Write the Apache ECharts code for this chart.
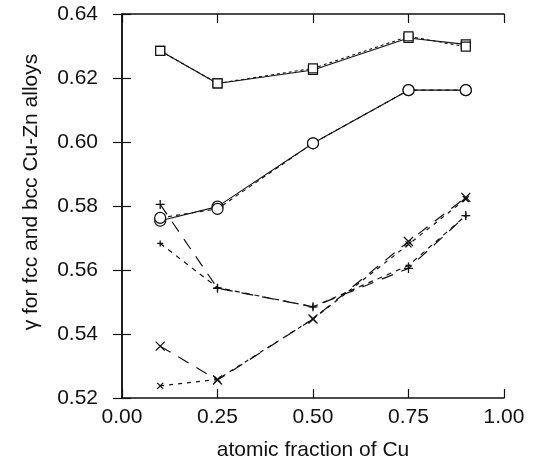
<!DOCTYPE html>
<html>
<head>
<meta charset="utf-8">
<script src="https://cdn.jsdelivr.net/npm/echarts@6/dist/echarts.min.js"></script>
<style>
  html, body { margin: 0; padding: 0; background: #fff; }
  #chart { width: 535px; height: 468px; }
</style>
</head>
<body>
<div id="chart"></div>
<script>
// Atomic fraction of Cu at which gamma was evaluated
const cuFraction = [0.1, 0.25, 0.5, 0.75, 0.9];

// fcc results (squares and circles), two variants each
const fccSquareA = [0.6285, 0.6183, 0.6225, 0.6325, 0.6305];
const fccSquareB = [0.6285, 0.6183, 0.6230, 0.6330, 0.6298];
const fccCircleA = [0.5754, 0.5798, 0.5996, 0.6162, 0.6162];
const fccCircleB = [0.5763, 0.5791, 0.5996, 0.6162, 0.6162];

// bcc results (plus and cross markers), two variants each
const bccPlusLong  = [0.5805, 0.5543, 0.5485, 0.5605, 0.5770];
const bccPlusShort = [0.5683, 0.5545, 0.5485, 0.5614, 0.5770];
const bccCrossLong  = [0.5362, 0.5256, 0.5447, 0.5689, 0.5827];
const bccCrossShort = [0.5238, 0.5258, 0.5447, 0.5680, 0.5822];

// Axis ticks
const xTicks = { min: 0, max: 1, step: 0.25 };
const yTicks = { min: 0.52, max: 0.64, step: 0.02 };

const FONT = 'Liberation Sans, Arial, Helvetica, sans-serif';
const INK = '#111';

const PLUS = 'path://M0,5L10,5M5,0L5,10';
const CROSS = 'path://M0,0L10,10M10,0L0,10';

function pairs(ys) {
  return cuFraction.map((x, i) => [x, ys[i]]);
}

function makeSeries(name, ys, symbol, size, dash, width) {
  return {
    name: name,
    type: 'line',
    data: pairs(ys),
    symbol: symbol,
    symbolSize: size,
    showAllSymbol: true,
    animation: false,
    lineStyle: { color: INK, width: width || 1.1, type: dash },
    itemStyle: { color: '#fff', borderColor: INK, borderWidth: 1.2 },
    emphasis: { disabled: true },
    z: 3
  };
}

function strokeOnly(s) {
  s.itemStyle = { color: 'none', borderColor: INK, borderWidth: 1.3 };
  return s;
}

const axisCommon = {
  axisLine: { show: true, lineStyle: { color: INK, width: 1.5 } },
  axisTick: { show: true, inside: true, length: 9, lineStyle: { color: INK, width: 1.2 } },
  splitLine: { show: false }
};

const chart = echarts.init(document.getElementById('chart'), null, { renderer: 'canvas' });

chart.setOption({
  backgroundColor: '#fff',
  animation: false,
  grid: { left: 122, right: 31, top: 14, bottom: 70, containLabel: false },
  xAxis: [
    Object.assign({
      type: 'value',
      position: 'bottom',
      min: xTicks.min, max: xTicks.max, interval: xTicks.step,
      name: 'atomic fraction of Cu',
      nameLocation: 'middle',
      nameGap: 42,
      nameTextStyle: { fontFamily: FONT, fontSize: 21, color: INK },
      axisLabel: {
        fontFamily: FONT, fontSize: 21, color: INK, margin: 9,
        formatter: v => v.toFixed(2)
      }
    }, axisCommon),
    Object.assign({
      type: 'value',
      position: 'top',
      min: xTicks.min, max: xTicks.max, interval: xTicks.step,
      axisLabel: { show: false }
    }, axisCommon)
  ],
  yAxis: [
    Object.assign({
      type: 'value',
      position: 'left',
      min: yTicks.min, max: yTicks.max, interval: yTicks.step,
      axisLabel: {
        fontFamily: FONT, fontSize: 21, color: INK, margin: 24,
        formatter: v => v.toFixed(2)
      }
    }, axisCommon),
    Object.assign({
      type: 'value',
      position: 'right',
      min: yTicks.min, max: yTicks.max, interval: yTicks.step,
      axisLabel: { show: false }
    }, axisCommon)
  ],
  graphic: [{
    type: 'text',
    rotation: Math.PI / 2,
    x: 31, y: 192,
    style: {
      text: 'γ for fcc and bcc Cu-Zn alloys',
      font: '21px ' + FONT,
      fill: INK,
      align: 'center',
      verticalAlign: 'middle'
    }
  }],
  series: [
    makeSeries('fcc square A', fccSquareA, 'rect', 9, 'solid', 1.1),
    makeSeries('fcc square B', fccSquareB, 'rect', 9, [3, 3], 1.1),
    makeSeries('fcc circle A', fccCircleA, 'circle', 11, 'solid', 1.1),
    makeSeries('fcc circle B', fccCircleB, 'circle', 11, [4, 4], 1.1),
    strokeOnly(makeSeries('bcc plus long', bccPlusLong, PLUS, 9, [12, 9], 1.2)),
    strokeOnly(makeSeries('bcc plus short', bccPlusShort, PLUS, 6, [5, 5], 1.2)),
    strokeOnly(makeSeries('bcc cross long', bccCrossLong, CROSS, 9, [12, 9], 1.2)),
    strokeOnly(makeSeries('bcc cross short', bccCrossShort, CROSS, 6, [4, 5], 1.2))
  ]
});
</script>
</body>
</html>
